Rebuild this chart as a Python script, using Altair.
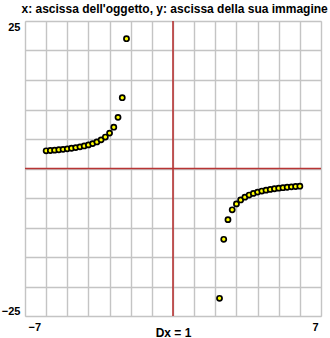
import altair as alt
import pandas as pd

# object abscissa (x) and image abscissa (y)
x_left = [-6.0, -5.8, -5.6, -5.4, -5.2, -5.0, -4.8, -4.6, -4.4, -4.2,
          -4.0, -3.8, -3.6, -3.4, -3.2, -3.0, -2.8, -2.6, -2.4, -2.2]
y_left = [3.0, 3.05, 3.11, 3.18, 3.25, 3.33, 3.43, 3.54, 3.67, 3.82,
          4.0, 4.22, 4.5, 4.86, 5.33, 6.0, 7.0, 8.67, 12.0, 22.0]
x_right = [2.2, 2.4, 2.6, 2.8, 3.0, 3.2, 3.4, 3.6, 3.8, 4.0,
           4.2, 4.4, 4.6, 4.8, 5.0, 5.2, 5.4, 5.6, 5.8, 6.0]
y_right = [-22.0, -12.0, -8.67, -7.0, -6.0, -5.33, -4.86, -4.5, -4.22, -4.0,
           -3.82, -3.67, -3.54, -3.43, -3.33, -3.25, -3.18, -3.11, -3.05, -3.0]

x_ticks = list(range(-7, 8))
y_ticks = [-25, -20, -15, -10, -5, 0, 5, 10, 15, 20, 25]

pts = pd.DataFrame({"x": x_left + x_right, "y": y_left + y_right})

xs = alt.Scale(domain=[-7, 7], nice=False, zero=False)
ys = alt.Scale(domain=[-25, 25], nice=False, zero=False)

xaxis = alt.Axis(
    values=x_ticks, title="Dx = 1", labelExpr="abs(datum.value) == 7 ? datum.label : ''",
    labelFlush=True, labelFlushOffset=-3, ticks=False, domain=False,
    gridColor="#c4c4c4", gridWidth=1.4, labelFont="Liberation Sans", labelFontWeight="bold",
    labelFontSize=11, labelColor="#000000", labelPadding=5,
    titleFont="Liberation Sans", titleFontWeight="bold", titleFontSize=12,
    titleColor="#000000", titleY=11, titleBaseline="top")
yaxis = alt.Axis(
    values=y_ticks, title=None, labelExpr="abs(datum.value) == 25 ? datum.label : ''",
    labelFlush=True, labelFlushOffset=0, ticks=False, domain=False,
    gridColor="#c4c4c4", gridWidth=1.4, labelFont="Liberation Sans", labelFontWeight="bold",
    labelFontSize=11, labelColor="#000000", labelPadding=5)

points = alt.Chart(pts).mark_point(
    filled=True, fill="#ffff00", stroke="#000000", strokeWidth=1.7, size=26, opacity=1
).encode(
    x=alt.X("x:Q", scale=xs, axis=xaxis),
    y=alt.Y("y:Q", scale=ys, axis=yaxis),
)

zero = pd.DataFrame({"v": [0]})
vline = alt.Chart(zero).mark_rule(color="#b83434", strokeWidth=1.6).encode(
    x=alt.X("v:Q", scale=xs, axis=xaxis))
hline = alt.Chart(zero).mark_rule(color="#b83434", strokeWidth=1.6).encode(
    y=alt.Y("v:Q", scale=ys, axis=yaxis))

chart = alt.layer(points, vline, hline).properties(
    width=296, height=295,
    title=alt.TitleParams("x: ascissa dell'oggetto,  y: ascissa della sua immagine",
                          font="Liberation Sans", fontSize=12, fontWeight="bold",
                          color="#000000", anchor="end", offset=4, dx=6),
    padding={"left": 25, "top": 21, "right": 9, "bottom": 22},
    autosize=alt.AutoSizeParams(type="none"),
).configure_view(stroke="#b0b0b0", strokeWidth=1.4).configure(background="#ffffff")

chart.save("out.html", embed_options={"renderer": "svg", "actions": False})
